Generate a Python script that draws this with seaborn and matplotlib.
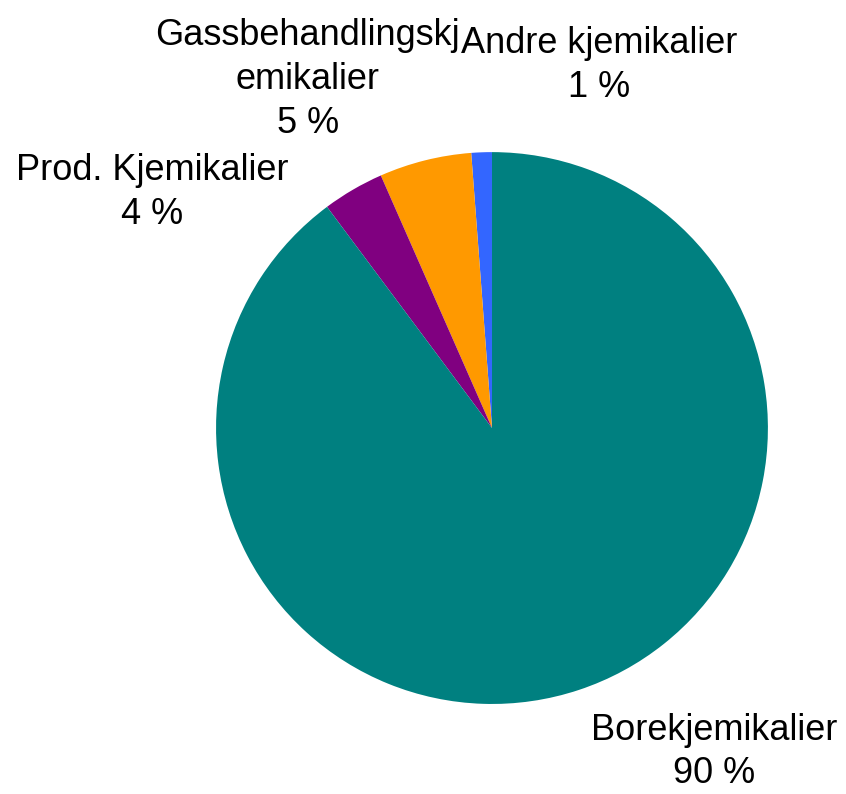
import matplotlib
matplotlib.use("Agg")
import matplotlib.pyplot as plt
import seaborn as sns
import numpy as np

sns.set_theme(style="white")
plt.rcParams['font.family'] = ['Liberation Sans', 'DejaVu Sans']

# Data (counter-clockwise from 12 o'clock)
categories = ["Andre kjemikalier", "Gassbehandlingskj\nemikalier", "Prod. Kjemikalier", "Borekjemikalier"]
values = [1.2, 5.4, 3.6, 89.8]
colors = ["#3366FF", "#FF9900", "#800080", "#008080"]

# Label placement (layout, in pie-radius units)
label_pos = [(0.388, 1.315), (-0.667, 1.264), (-1.232, 0.855), (0.804, -1.174)]

fig = plt.figure(figsize=(8.46, 7.94), dpi=100)
ax = fig.add_axes([0, 0, 1, 1])
wedges, _ = ax.pie(values, colors=colors, startangle=90, counterclock=True,
                   radius=1.0, wedgeprops=dict(linewidth=0))
total = sum(values)
for cat, v, (lx, ly) in zip(categories, values, label_pos):
    ax.text(lx, ly, f"{cat}\n{v/total*100:.0f} %", ha="center", va="center",
            fontsize=26, color="black", linespacing=1.33)
ax.set_xlim(-1.783, 1.283)
ax.set_ylim(-1.326, 1.551)
ax.set_aspect("equal")
ax.axis("off")
fig.savefig("out.png", dpi=100)
